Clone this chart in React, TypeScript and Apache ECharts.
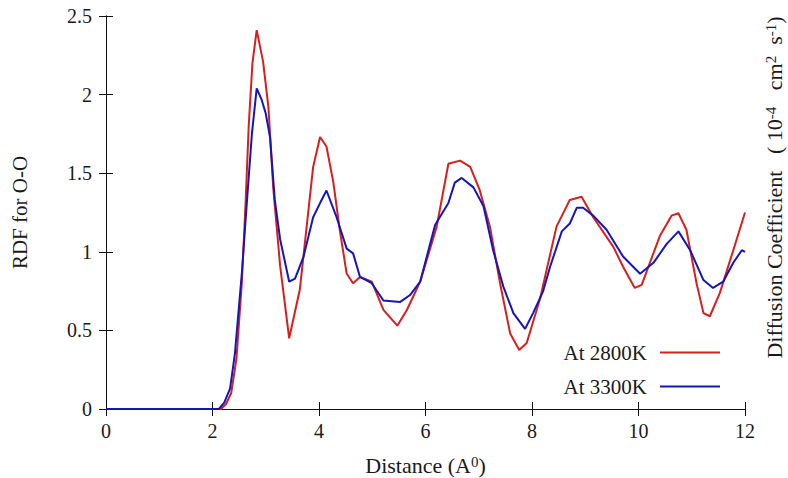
import React, { useEffect, useRef } from "react";
import * as echarts from "echarts";

const xTicks = [0, 2, 4, 6, 8, 10, 12];
const yTicks = [0, 0.5, 1, 1.5, 2, 2.5];

const seriesNames = ["At 2800K", "At 3300K"];

const redX = [0, 2.16, 2.25, 2.35, 2.45, 2.55, 2.62, 2.68, 2.75, 2.83, 2.95, 3.05, 3.14, 3.27, 3.44, 3.64, 3.89, 4.02, 4.14, 4.27, 4.39, 4.52, 4.64, 4.77, 4.99, 5.21, 5.47, 5.65, 5.9, 6.21, 6.43, 6.65, 6.84, 7.02, 7.21, 7.4, 7.59, 7.76, 7.9, 8.15, 8.46, 8.71, 8.93, 9.15, 9.53, 9.71, 9.93, 10.06, 10.4, 10.62, 10.75, 10.9, 11.09, 11.22, 11.34, 11.53, 11.78, 12];
const redY = [0, 0, 0.03, 0.1, 0.32, 0.8, 1.3, 1.8, 2.2, 2.41, 2.21, 1.92, 1.41, 0.91, 0.45, 0.76, 1.54, 1.73, 1.67, 1.44, 1.14, 0.86, 0.8, 0.84, 0.81, 0.63, 0.53, 0.63, 0.81, 1.16, 1.56, 1.58, 1.54, 1.39, 1.16, 0.8, 0.48, 0.375, 0.42, 0.7, 1.16, 1.33, 1.35, 1.22, 1.03, 0.905, 0.77, 0.79, 1.1, 1.23, 1.245, 1.14, 0.8, 0.61, 0.59, 0.74, 1.01, 1.25];

const blueX = [0, 2.12, 2.22, 2.33, 2.42, 2.55, 2.64, 2.74, 2.83, 2.92, 3.0, 3.08, 3.17, 3.27, 3.44, 3.55, 3.71, 3.89, 4.02, 4.14, 4.33, 4.52, 4.64, 4.77, 4.99, 5.21, 5.52, 5.71, 5.9, 6.18, 6.43, 6.55, 6.68, 6.9, 7.09, 7.27, 7.46, 7.65, 7.87, 8.02, 8.21, 8.34, 8.56, 8.71, 8.84, 8.96, 9.15, 9.4, 9.71, 10.03, 10.28, 10.53, 10.75, 10.97, 11.22, 11.4, 11.59, 11.78, 11.94, 12];
const blueY = [0, 0, 0.04, 0.13, 0.35, 0.86, 1.29, 1.75, 2.04, 1.97, 1.88, 1.73, 1.33, 1.08, 0.81, 0.83, 0.97, 1.22, 1.31, 1.39, 1.22, 1.02, 0.99, 0.84, 0.8, 0.69, 0.68, 0.725, 0.81, 1.17, 1.31, 1.44, 1.47, 1.41, 1.29, 1.01, 0.78, 0.61, 0.51, 0.61, 0.75, 0.905, 1.13, 1.18, 1.28, 1.28, 1.23, 1.14, 0.97, 0.86, 0.93, 1.05, 1.13, 1.01, 0.82, 0.77, 0.81, 0.93, 1.01, 1.0];

const FONT = "Liberation Serif";
const INK = "#1a1a1a";

export default function App() {
  const ref = useRef<HTMLDivElement>(null);
  useEffect(() => {
    if (!ref.current) return;
    const chart = echarts.init(ref.current, undefined, { renderer: "svg" });
    const pairs = (xs: number[], ys: number[]) => xs.map((x, i) => [x, ys[i]]);
    const sup = { fontSize: 15, fontFamily: FONT, color: INK, verticalAlign: "top" as const, lineHeight: 22 };
    const axisCommon = {
      axisLine: { show: true, lineStyle: { color: "#111", width: 1 } },
      axisTick: { show: true, inside: true, length: 7, lineStyle: { color: "#111" } },
      splitLine: { show: false },
    };
    chart.setOption({
      animation: false,
      backgroundColor: "#fff",
      grid: { left: 106, top: 16, right: 43, bottom: 69, containLabel: false, outerBoundsMode: "none" },
      legend: {
        orient: "vertical",
        right: 63,
        top: 337,
        align: "right",
        itemWidth: 60,
        itemHeight: 2,
        itemGap: 13,
        icon: "rect",
        textStyle: { fontFamily: FONT, fontSize: 21, color: INK, padding: [0, 8, 0, 0] },
        data: seriesNames,
      },
      xAxis: [
        {
          type: "value",
          min: xTicks[0],
          max: xTicks[xTicks.length - 1],
          interval: 2,
          ...axisCommon,
          axisLabel: { fontFamily: FONT, fontSize: 20, color: INK, margin: 12 },
          name: "Distance (A{sup|0})",
          nameLocation: "middle",
          nameGap: 45,
          nameTextStyle: { fontFamily: FONT, fontSize: 22, color: INK, lineHeight: 22, rich: { sup } },
        },
        {
          type: "value",
          position: "top",
          min: xTicks[0],
          max: xTicks[xTicks.length - 1],
          interval: 2,
          ...axisCommon,
          axisLabel: { show: false },
        },
      ],
      yAxis: [
        {
          type: "value",
          min: yTicks[0],
          max: yTicks[yTicks.length - 1],
          interval: 0.5,
          ...axisCommon,
          axisLabel: { fontFamily: FONT, fontSize: 20, color: INK, margin: 14 },
          name: "RDF for O-O",
          nameLocation: "middle",
          nameGap: 76,
          nameTextStyle: { fontFamily: FONT, fontSize: 21, color: INK },
        },
        {
          type: "value",
          position: "right",
          min: yTicks[0],
          max: yTicks[yTicks.length - 1],
          interval: 0.5,
          ...axisCommon,
          axisLabel: { show: false },
          name: "Diffusion Coefficient   ( 10{sup|-4}   cm{sup|2}  s{sup|-1})",
          nameLocation: "middle",
          nameRotate: 90,
          nameGap: 18,
          nameTextStyle: { fontFamily: FONT, fontSize: 22, color: INK, lineHeight: 22, padding: [0, 0, 0, 50], rich: { sup } },
        },
      ],
      series: [
        {
          name: seriesNames[0],
          type: "line",
          data: pairs(redX, redY),
          showSymbol: false,
          symbol: "none",
          lineStyle: { color: "#d61f1f", width: 2 },
          itemStyle: { color: "#d61f1f" },
        },
        {
          name: seriesNames[1],
          type: "line",
          data: pairs(blueX, blueY),
          showSymbol: false,
          symbol: "none",
          lineStyle: { color: "#1616b8", width: 2 },
          itemStyle: { color: "#1616b8" },
        },
      ],
    });
    return () => chart.dispose();
  }, []);
  return <div ref={ref} style={{ width: 788, height: 478, position: "absolute", left: 0, top: 0 }} />;
}
